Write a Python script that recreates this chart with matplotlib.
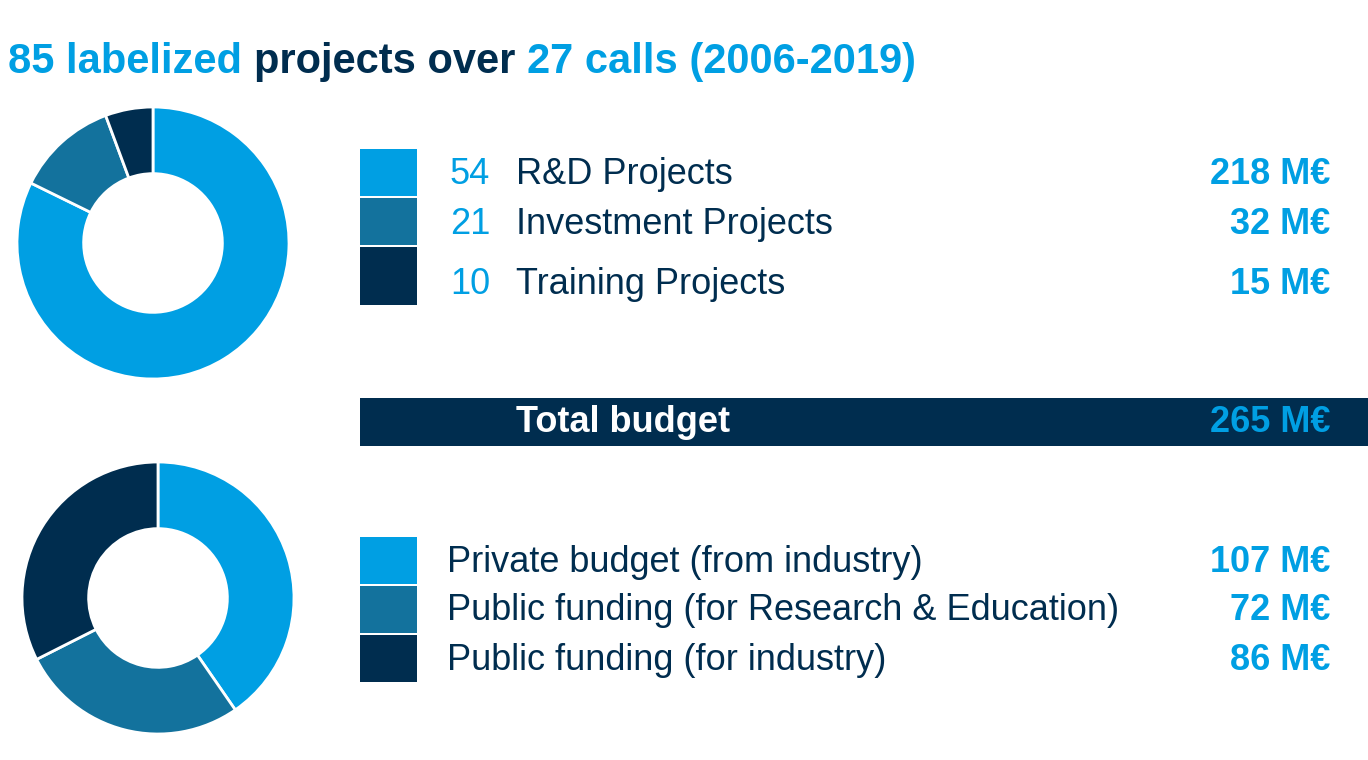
import matplotlib
matplotlib.use("Agg")
import matplotlib.pyplot as plt
from matplotlib.patches import Rectangle

plt.rcParams['font.family'] = 'Liberation Sans'

W, H = 1368, 760
LIGHT, MID, DARK = '#009FE3', '#13729D', '#002D4F'
colors = [LIGHT, MID, DARK]

proj_counts = [54, 21, 10]
proj_labels = ['R&D Projects', 'Investment Projects', 'Training Projects']
proj_budget = [218, 32, 15]
fund_labels = ['Private budget (from industry)', 'Public funding (for Research & Education)', 'Public funding (for industry)']
fund_budget = [107, 72, 86]
total_budget = 265

fig = plt.figure(figsize=(W/100, H/100), dpi=100)
bg = fig.add_axes([0, 0, 1, 1])
bg.set_xlim(0, W); bg.set_ylim(H, 0); bg.axis('off')

def pie_ax(cx, cy, r, vals):
    ax = fig.add_axes([(cx-r)/W, 1-(cy+r)/H, 2*r/W, 2*r/H])
    ax.pie(vals, colors=colors, startangle=90, counterclock=False, radius=1,
           wedgeprops=dict(width=0.49, edgecolor='white', linewidth=2))
    ax.set_xlim(-1, 1); ax.set_ylim(-1, 1); ax.set_aspect('equal'); ax.axis('off')

pie_ax(153, 243, 136, proj_budget)
pie_ax(158, 598, 136, fund_budget)

# title
t = bg.text(8, 62, '85 labelized ', color=LIGHT, fontsize=30, fontweight='bold', va='center')
fig.canvas.draw()
def after(txt, s, c):
    bb = txt.get_window_extent()
    x = bb.x1
    return bg.text(x, 62, s, color=c, fontsize=30, fontweight='bold', va='center',
                   transform=None) if False else None
# build title with annotate offsets
from matplotlib import transforms
parts = [('85 labelized ', LIGHT), ('projects over ', DARK), ('27 calls (2006-2019)', LIGHT)]
t.remove()
x = 8
r = fig.canvas.get_renderer()
for s, c in parts:
    tt = bg.text(x, 62, s, color=c, fontsize=30, fontweight='bold', va='center')
    bb = tt.get_window_extent(renderer=r)
    x += bb.width

fs = 26
rows1 = [(149, 197, 175), (198, 246, 224), (247, 306, 285)]
for i, (y0, y1, yc) in enumerate(rows1):
    bg.add_patch(Rectangle((360, y0), 57, y1-y0-1, color=colors[i], lw=0))
    bg.text(490, yc, str(proj_counts[i]), color=LIGHT, fontsize=fs, ha='right', va='center')
    bg.text(516, yc, proj_labels[i], color=DARK, fontsize=fs, va='center')
    bg.text(1330, yc, f'{proj_budget[i]} M€', color=LIGHT, fontsize=fs, fontweight='bold', ha='right', va='center')

bg.add_patch(Rectangle((360, 398), 1008, 48, color=DARK, lw=0))
bg.text(516, 423, 'Total budget', color='white', fontsize=fs, fontweight='bold', va='center')
bg.text(1330, 423, f'{total_budget} M€', color=LIGHT, fontsize=fs, fontweight='bold', ha='right', va='center')

rows2 = [(537, 585, 563), (586, 634, 611), (635, 683, 660)]
for i, (y0, y1, yc) in enumerate(rows2):
    bg.add_patch(Rectangle((360, y0), 57, y1-y0-1, color=colors[i], lw=0))
    bg.text(447, yc, fund_labels[i], color=DARK, fontsize=fs, va='center')
    bg.text(1330, yc, f'{fund_budget[i]} M€', color=LIGHT, fontsize=fs, fontweight='bold', ha='right', va='center')

fig.savefig('out.png', dpi=100)
